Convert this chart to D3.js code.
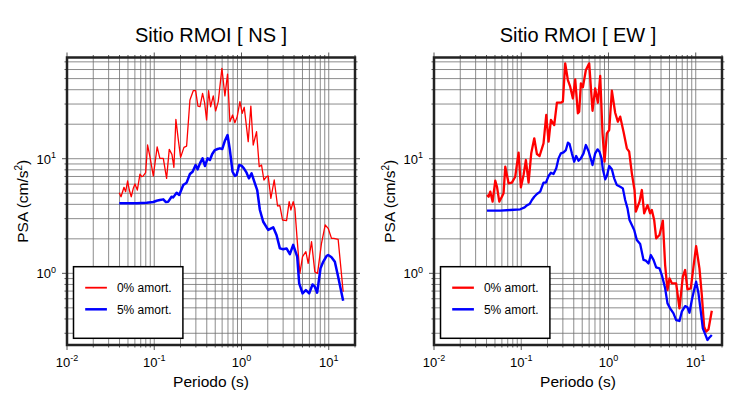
<!DOCTYPE html>
<html><head><meta charset="utf-8">
<script src="https://cdn.jsdelivr.net/npm/d3@7"></script>
<style>
body{margin:0;background:#fff}
svg{display:block}
text{font-family:"Liberation Sans",Arial,Helvetica,sans-serif;fill:#000}
</style>
</head><body><svg id="c" width="730" height="400"></svg>
<script>
// ---------------- DATA ----------------
const titles = ["Sitio RMOI [ NS ]", "Sitio RMOI [ EW ]"];
const legendLabels = ["0% amort.", "5% amort."];
const xLabel = "Periodo (s)";
const xTickExps = [-2, -1, 0, 1];
const yTickExps = [0, 1];

// NS, 0% damping
const nsT0 = [0.0397,0.0416,0.045,0.047,0.0495,0.0518,0.0545,0.0575,0.0601,0.064,0.0686,0.0717,0.0748,0.0796,0.0839,0.0893,0.0975,0.108,0.116,0.127,0.1385,0.1486,0.1595,0.168,0.177,0.1885,0.2005,0.219,0.235,0.2565,0.280,0.298,0.3168,0.334,0.358,0.3776,0.398,0.4197,0.4425,0.4747,0.505,0.5415,0.5964,0.6457,0.692,0.7365,0.790,0.840,0.893,0.959,1.02,1.075,1.194,1.28,1.362,1.488,1.597,1.698,1.806,1.937,2.023,2.172,2.372,2.59,2.754,2.954,3.284,3.52,3.68,3.914,4.09,4.35,4.67,5.01,5.47,5.81,6.35,6.93,7.44,8.26,9.10,9.85,10.76,11.44,12.82,14.63];
const nsPSA0 = [5.05,4.66,5.63,5.16,6.39,5.33,4.66,5.51,6.02,5.33,7.35,6.97,7.07,7.55,13.17,10.4,7.07,12.7,10.07,10.07,6.74,12.07,10.9,8.41,22.05,14.76,10.28,12.57,12.9,32.5,39.2,39.2,28.8,28.4,37.2,30.8,21.8,39.2,28.4,35.3,26.1,31.5,61.4,35.3,54.8,21.04,24.06,20.6,23.3,31.5,24.9,28.1,14.1,28.8,13.17,17.2,8.52,8.81,6.52,6.97,7.07,4.51,6.52,3.87,3.9,2.92,2.88,4.22,3.57,4.22,3.69,1.95,1.0,1.40,1.545,1.22,1.89,1.03,1.0,1.83,2.64,2.47,2.02,2.02,1.98,0.69];

// NS, 5% damping
const nsT5 = [0.0397,0.0483,0.0629,0.0818,0.0975,0.1065,0.116,0.127,0.136,0.1448,0.158,0.165,0.1805,0.1935,0.215,0.235,0.2565,0.275,0.298,0.314,0.334,0.358,0.381,0.409,0.4345,0.462,0.496,0.532,0.566,0.6016,0.6457,0.692,0.7365,0.790,0.840,0.878,0.942,1.0,1.065,1.143,1.216,1.305,1.424,1.514,1.625,1.774,2.023,2.31,2.52,2.754,3.006,3.284,3.584,3.914,4.35,4.585,5.01,5.47,5.97,6.52,6.93,7.37,8.05,8.64,9.43,9.85,10.76,11.75,12.82,14.63];
const nsPSA5 = [4.08,4.08,4.08,4.13,4.19,4.30,4.36,4.42,4.19,4.22,4.66,4.60,5.05,4.82,5.89,6.18,7.35,7.70,8.81,8.08,9.11,10.07,8.64,10.07,9.74,10.99,11.9,12.15,12.32,12.15,14.37,16.1,11.9,7.70,7.07,7.21,8.81,8.70,8.24,7.55,6.74,7.45,6.10,5.33,3.57,2.82,2.39,2.52,2.16,1.65,1.62,1.65,1.47,1.77,1.40,0.818,0.669,0.715,0.669,0.80,0.764,0.678,1.105,1.26,1.416,1.445,1.38,1.26,0.935,0.577];

// EW, 0% damping
const ewT0 = [0.0405,0.0423,0.0442,0.047,0.0504,0.0527,0.056,0.060,0.0627,0.0656,0.0716,0.0781,0.0853,0.0932,0.0991,0.1063,0.1131,0.1213,0.1302,0.141,0.1512,0.1622,0.180,0.1934,0.2057,0.2188,0.2388,0.2563,0.2848,0.300,0.319,0.3424,0.364,0.3907,0.4155,0.4458,0.4617,0.4826,0.5088,0.5505,0.601,0.656,0.704,0.7553,0.8035,0.8543,0.9006,0.958,1.019,1.093,1.193,1.28,1.361,1.487,1.623,1.726,1.852,1.987,2.059,2.267,2.412,2.564,2.80,3.004,3.14,3.338,3.52,3.842,4.196,4.46,4.745,5.0,5.32,5.965,6.51,7.11,7.56,8.04,8.78,9.42,10.1,11.03,11.74,12.48,13.15,13.99,15.28];
const ewPSA0 = [4.82,4.66,5.16,4.22,6.43,5.70,4.22,4.66,4.99,8.52,6.10,6.18,6.97,11.29,5.63,7.21,9.74,6.18,11.14,15.07,10.99,10.56,13.62,24.06,14.1,21.8,19.68,30.8,30.8,31.5,67.9,48.6,42.5,33.6,49.3,24.9,25.7,45.5,41.96,59.4,67.9,26.2,41.1,30.8,52.7,16.65,9.42,16.65,17.8,39.2,25.2,21.04,23.3,17.2,12.32,11.51,7.45,5.33,3.45,4.22,5.33,3.34,3.94,3.34,3.57,2.92,2.02,2.16,2.88,1.18,0.715,0.904,0.818,0.818,0.495,0.935,1.07,0.725,0.74,1.14,1.73,1.105,0.647,0.342,0.31,0.324,0.472];

// EW, 5% damping
const ewT5 = [0.0405,0.0575,0.0748,0.0974,0.1092,0.116,0.1245,0.1325,0.141,0.1512,0.165,0.180,0.1917,0.2057,0.2188,0.2345,0.252,0.2677,0.2848,0.3054,0.3248,0.3424,0.3578,0.3804,0.4046,0.4266,0.4535,0.4826,0.5177,0.5505,0.590,0.617,0.656,0.704,0.7485,0.789,0.832,0.862,0.917,0.958,1.019,1.093,1.162,1.247,1.361,1.461,1.553,1.652,1.742,1.852,1.97,2.113,2.307,2.52,2.68,2.875,3.057,3.28,3.52,3.842,4.087,4.46,4.745,5.09,5.56,5.965,6.51,6.92,7.56,8.04,8.48,9.02,9.58,10.1,10.75,11.43,12.05,12.82,13.63,14.37,15.28];
const ewPSA5 = [3.52,3.52,3.57,3.62,3.76,3.92,4.02,4.36,4.66,4.92,5.16,6.18,6.18,7.07,7.55,7.35,8.24,10.07,11.14,11.36,11.9,13.8,13.44,11.14,9.42,10.56,9.61,10.07,11.14,13.17,11.67,10.4,8.81,11.14,12.07,11.51,10.07,8.08,6.61,7.07,8.64,8.08,6.74,5.89,5.70,5.51,4.36,3.69,2.92,2.64,2.39,1.95,1.80,1.31,1.29,1.22,1.445,1.31,1.127,1.105,0.966,0.74,0.547,0.495,0.448,0.391,0.384,0.463,0.518,0.505,0.453,0.585,0.715,0.845,0.669,0.463,0.331,0.295,0.262,0.276,0.29];

// ---------------- DRAW ----------------
const svg = d3.select("#c");
const xDomain = [0.01, 20];
const yDomain = [0.237, 76.4];
const TOP = 57.5, BOTTOM = 345;

const zip = (t, v) => t.slice(0, Math.min(t.length, v.length)).map((d, i) => [d, v[i]]);

const panels = [
  {left: 67, right: 355, title: titles[0], red: zip(nsT0, nsPSA0), blue: zip(nsT5, nsPSA5), redW: 1.3, blueW: 2.5, legRedW: 1.8},
  {left: 434, right: 722, title: titles[1], red: zip(ewT0, ewPSA0), blue: zip(ewT5, ewPSA5), redW: 2.3, blueW: 2.3, legRedW: 2.3}
];

function logTicks(dom) {
  const out = [];
  for (let e = -3; e <= 3; e++) for (let m = 1; m <= 9; m++) {
    const v = m * Math.pow(10, e);
    if (v >= dom[0] * 0.9999 && v <= dom[1] * 1.0001) out.push({v, major: m === 1});
  }
  return out;
}
const xt = logTicks(xDomain), yt = logTicks(yDomain);

panels.forEach(p => {
  const x = d3.scaleLog().domain(xDomain).range([p.left, p.right]);
  const y = d3.scaleLog().domain(yDomain).range([BOTTOM, TOP]);
  const g = svg.append("g");

  // grid
  g.selectAll(".gx").data(xt).enter().append("line")
    .attr("x1", d => x(d.v)).attr("x2", d => x(d.v)).attr("y1", TOP).attr("y2", BOTTOM)
    .attr("stroke", "#6e6e6e").attr("stroke-width", 0.8);
  g.selectAll(".gy").data(yt).enter().append("line")
    .attr("y1", d => y(d.v)).attr("y2", d => y(d.v)).attr("x1", p.left).attr("x2", p.right)
    .attr("stroke", "#6e6e6e").attr("stroke-width", 0.8);

  // outward ticks on all four sides
  const tk = d => d.major ? 5 : 2.5;
  g.selectAll(".tb").data(xt).enter().append("line")
    .attr("x1", d => x(d.v)).attr("x2", d => x(d.v)).attr("y1", BOTTOM).attr("y2", d => BOTTOM + tk(d))
    .attr("stroke", "#555").attr("stroke-width", 1);
  g.selectAll(".tt").data(xt).enter().append("line")
    .attr("x1", d => x(d.v)).attr("x2", d => x(d.v)).attr("y1", TOP).attr("y2", d => TOP - tk(d))
    .attr("stroke", "#555").attr("stroke-width", 1);
  g.selectAll(".tl").data(yt).enter().append("line")
    .attr("y1", d => y(d.v)).attr("y2", d => y(d.v)).attr("x1", p.left).attr("x2", d => p.left - tk(d))
    .attr("stroke", "#555").attr("stroke-width", 1);
  g.selectAll(".tr").data(yt).enter().append("line")
    .attr("y1", d => y(d.v)).attr("y2", d => y(d.v)).attr("x1", p.right).attr("x2", d => p.right + tk(d))
    .attr("stroke", "#555").attr("stroke-width", 1);

  // data lines
  const line = d3.line().x(d => x(d[0])).y(d => y(d[1]));
  g.append("path").datum(p.red).attr("d", line).attr("fill", "none")
    .attr("stroke", "#ff0000").attr("stroke-width", p.redW).attr("stroke-linejoin", "round");
  g.append("path").datum(p.blue).attr("d", line).attr("fill", "none")
    .attr("stroke", "#0000ff").attr("stroke-width", p.blueW).attr("stroke-linejoin", "round");

  // frame
  g.append("rect").attr("x", p.left).attr("y", TOP).attr("width", p.right - p.left).attr("height", BOTTOM - TOP)
    .attr("fill", "none").attr("stroke", "#222").attr("stroke-width", 2.5);

  // legend
  const lx = p.left + 6.5, ly = 266.7;
  g.append("rect").attr("x", lx).attr("y", ly).attr("width", 109.4).attr("height", 71.6)
    .attr("fill", "#fff").attr("stroke", "#000").attr("stroke-width", 1.5);
  [["#ff0000", p.legRedW, 21], ["#0000ff", 2.5, 42.6]].forEach((s, i) => {
    g.append("line").attr("x1", lx + 11.7).attr("x2", lx + 33.4).attr("y1", ly + s[2]).attr("y2", ly + s[2])
      .attr("stroke", s[0]).attr("stroke-width", s[1]);
    g.append("text").attr("x", lx + 43.4).attr("y", ly + s[2] + 4.3).style("font-size", "12px").text(legendLabels[i]);
  });

  // x tick labels
  xTickExps.forEach(e => {
    const t = g.append("text").attr("x", x(Math.pow(10, e))).attr("y", BOTTOM + 21.5)
      .attr("text-anchor", "middle").style("font-size", "13px");
    t.append("tspan").text("10");
    t.append("tspan").attr("dy", -5.5).style("font-size", "9px").text(e < 0 ? "-" + (-e) : String(e));
  });
  // y tick labels
  yTickExps.forEach(e => {
    const t = g.append("text").attr("x", p.left - 11).attr("y", y(Math.pow(10, e)) + 5)
      .attr("text-anchor", "end").style("font-size", "13px");
    t.append("tspan").text("10");
    t.append("tspan").attr("dy", -5.5).style("font-size", "9px").text(String(e));
  });

  // titles and axis labels
  const cx = (p.left + p.right) / 2;
  g.append("text").attr("x", cx).attr("y", 41.5).attr("text-anchor", "middle").style("font-size", "20px").text(p.title);
  g.append("text").attr("x", cx).attr("y", 387).attr("text-anchor", "middle").style("font-size", "15.5px").text(xLabel);
  const yl = g.append("text").attr("transform", `translate(${p.left - 39},${(TOP + BOTTOM) / 2}) rotate(-90)`)
    .attr("text-anchor", "middle").style("font-size", "15.5px");
  yl.append("tspan").text("PSA (cm/s");
  yl.append("tspan").attr("dy", -6).style("font-size", "10px").text("2");
  yl.append("tspan").attr("dy", 6).text(")");
});
</script>
</body></html>
